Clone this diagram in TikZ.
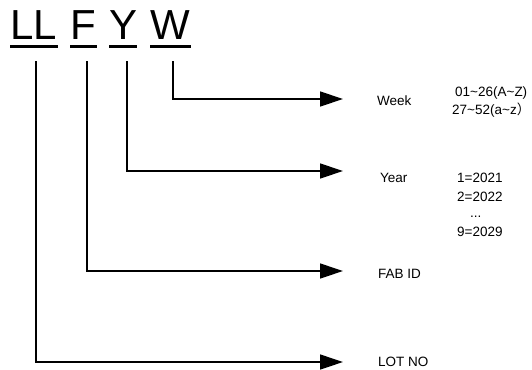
\documentclass[tikz,border=0pt]{standalone}
\usepackage{fontspec}
\setmainfont{Liberation Sans}
\newfontfamily\cjk{Noto Sans CJK SC}
\usetikzlibrary{arrows.meta}
\begin{document}
\begin{tikzpicture}[x=1pt,y=-1pt,
  big/.style={inner sep=0pt,anchor=base west,font=\fontsize{42}{46}\selectfont},
  lbl/.style={inner sep=0pt,anchor=base west,font=\fontsize{13.5}{15}\selectfont},
  uline/.style={line width=2.7pt},
  conn/.style={line width=1.3pt,-{Triangle[length=23pt,width=15pt]}}]
\useasboundingbox (0,0) rectangle (532,369);
% big letters
\node[big] (ll) at (10,40) {LL};
\node[big] (f) at (70,40) {F};
\node[big] (y) at (109,40) {Y};
\node[big] (w) at (150,40) {W};
\draw[uline] (10,46.3) -- (58,46.3);
\draw[uline] (70,46.3) -- (97,46.3);
\draw[uline] (109,46.3) -- (137,46.3);
\draw[uline] (150,46.3) -- (191,46.3);
% connector start/end points
\coordinate (s1) at (36,61);
\coordinate (s2) at (87,61);
\coordinate (s3) at (127,61);
\coordinate (s4) at (173,61);
\coordinate (e1) at (343,362);
\coordinate (e2) at (343,271);
\coordinate (e3) at (343,171);
\coordinate (e4) at (343,99);
\draw[conn] (s1) |- (e1);
\draw[conn] (s2) |- (e2);
\draw[conn] (s3) |- (e3);
\draw[conn] (s4) |- (e4);
% labels
\node[lbl] (week) at (377,105) {Week};
\node[lbl] (year) at (380,182) {Year};
\node[lbl] (fab) at (378,278) {FAB ID};
\node[lbl] (lot) at (378,366) {LOT NO};
\node[lbl] (w1) at (455,96) {01\textasciitilde 26(A\textasciitilde Z)};
\node[lbl] (w2) at (452,114.5) {27\textasciitilde 52(a\textasciitilde z{\cjk ）}};
\node[lbl] (y1) at (457,182) {1=2021};
\node[lbl] (y2) at (457,201) {2=2022};
\node[lbl] (y3) at (470,217) {...};
\node[lbl] (y4) at (457,236) {9=2029};
\end{tikzpicture}
\end{document}
